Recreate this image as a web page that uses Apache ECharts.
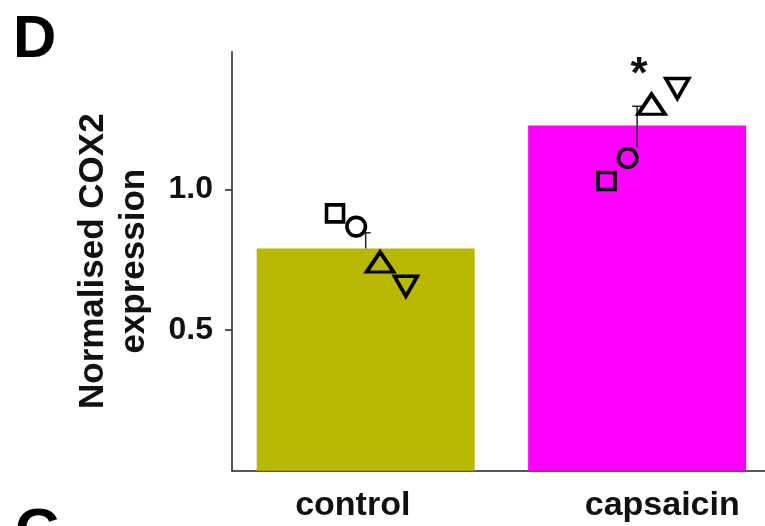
<!DOCTYPE html>
<html>
<head>
<meta charset="utf-8">
<title>Normalised COX2 expression</title>
<script src="https://cdn.jsdelivr.net/npm/echarts@6/dist/echarts.min.js"></script>
<style>
  html, body { margin: 0; padding: 0; background: #fff; }
  #chart { width: 765px; height: 526px; }
</style>
</head>
<body>
<div id="chart"></div>
<script>
// Group means and the four replicate measurements per group
const categories = ['control', 'capsaicin'];
const meanValues = [0.79, 1.228];
const errHigh = [0.846, 1.296];
const errLow = [0.79, 1.15];
const repSquare = [0.915, 1.03];
const repCircle = [0.868, 1.112];
const repTriangle = [0.742, 1.303];
const repInvTriangle = [0.656, 1.359];
const significance = ['', '*'];
const yTicks = [0.5, 1.0];

const FONT = '"Liberation Sans", Arial, Helvetica, sans-serif';
const barColors = ['#b8b800', '#ff00ff'];
const INK = '#111';

// horizontal spread of the replicate markers around each bar centre (category units)
const replicates = [
  { values: repSquare, shift: -0.113, symbol: 'rect', size: 17 },
  { values: repCircle, shift: -0.035, symbol: 'circle', size: 18.5 },
  { values: repTriangle, shift: 0.053, symbol: 'triangle', size: [27, 20] },
  { values: repInvTriangle, shift: 0.148, symbol: 'triangle', size: [23, 20], rotate: 180 }
];

const chart = echarts.init(document.getElementById('chart'), null, { renderer: 'canvas' });

const markerSeries = replicates.map(r => ({
  type: 'scatter',
  xAxisIndex: 0,
  yAxisIndex: 0,
  silent: true,
  symbol: r.symbol,
  symbolSize: r.size,
  symbolRotate: r.rotate || 0,
  itemStyle: {
    color: 'rgba(0,0,0,0)',
    borderColor: '#000',
    borderWidth: 3.6,
    opacity: 1
  },
  emphasis: { disabled: true },
  z: 4,
  data: r.values.map((v, i) => [i + r.shift, v])
}));

const option = {
  animation: false,
  backgroundColor: '#fff',
  grid: [
    { left: 232, right: 0, top: 51.7, bottom: 55.3, outerBoundsMode: 'none' },
    { left: 198, right: -52, top: 51.7, bottom: 55.3, outerBoundsMode: 'none' }
  ],
  xAxis: [
    {
      type: 'value',
      gridIndex: 0,
      min: -0.4925,
      max: 1.471,
      axisLine: { show: true, onZero: false, lineStyle: { color: '#222', width: 1.5 } },
      axisTick: { show: false },
      axisLabel: { show: false },
      splitLine: { show: false }
    },
    {
      type: 'category',
      gridIndex: 1,
      data: categories,
      axisLine: { show: false },
      axisTick: { show: false },
      axisLabel: {
        margin: 18,
        fontFamily: FONT,
        fontSize: 34,
        fontWeight: 'bold',
        color: INK
      },
      splitLine: { show: false }
    }
  ],
  yAxis: [
    {
      type: 'value',
      gridIndex: 0,
      min: 0,
      max: 1.49,
      interval: 0.5,
      name: 'Normalised COX2\nexpression',
      nameLocation: 'middle',
      nameRotate: 90,
      nameGap: 77,
      nameTextStyle: {
        fontFamily: FONT,
        fontSize: 35,
        fontWeight: 'bold',
        color: INK,
        lineHeight: 41,
        align: 'center'
      },
      axisLine: { show: true, onZero: false, lineStyle: { color: '#222', width: 1.5 } },
      axisTick: { show: true, length: 7, customValues: yTicks, lineStyle: { color: '#222', width: 1.5 } },
      axisLabel: {
        customValues: yTicks,
        margin: 19,
        fontFamily: FONT,
        fontSize: 32,
        fontWeight: 'bold',
        color: INK,
        formatter: v => v.toFixed(1)
      },
      splitLine: { show: false }
    },
    {
      type: 'value',
      gridIndex: 1,
      show: false,
      min: 0,
      max: 1.49
    }
  ],
  graphic: [
    {
      type: 'text',
      left: 13,
      top: 10.5,
      style: { text: 'D', font: 'bold 60px ' + FONT, fill: '#000' }
    },
    {
      type: 'text',
      left: 15,
      top: 503,
      style: { text: 'G', font: 'bold 60px ' + FONT, fill: '#000' }
    }
  ],
  series: [
    {
      type: 'bar',
      xAxisIndex: 0,
      yAxisIndex: 0,
      silent: true,
      barWidth: 218,
      z: 2,
      data: meanValues.map((v, i) => ({ value: [i, v], itemStyle: { color: barColors[i] } }))
    },
    {
      type: 'custom',
      xAxisIndex: 0,
      yAxisIndex: 0,
      silent: true,
      z: 3,
      encode: { x: 0, y: [1, 2] },
      data: categories.map((c, i) => [i, errHigh[i], errLow[i]]),
      renderItem: (params, api) => {
        const idx = params.dataIndex;
        const top = api.coord([api.value(0), api.value(1)]);
        const bottom = api.coord([api.value(0), api.value(2)]);
        return {
          type: 'group',
          children: [
            {
              type: 'line',
              shape: { x1: top[0], y1: top[1], x2: bottom[0], y2: bottom[1] },
              style: { stroke: '#222', lineWidth: 1.5 }
            },
            {
              type: 'line',
              shape: { x1: top[0] - 5, y1: top[1], x2: top[0] + 5, y2: top[1] },
              style: { stroke: '#222', lineWidth: 1.5 }
            },
            {
              type: 'text',
              x: top[0] + 2,
              y: top[1] - 30,
              style: {
                text: significance[idx],
                font: 'bold 44px ' + FONT,
                fill: INK,
                align: 'center',
                verticalAlign: 'middle'
              }
            }
          ]
        };
      }
    }
  ].concat(markerSeries)
};

chart.setOption(option);
</script>
</body>
</html>
